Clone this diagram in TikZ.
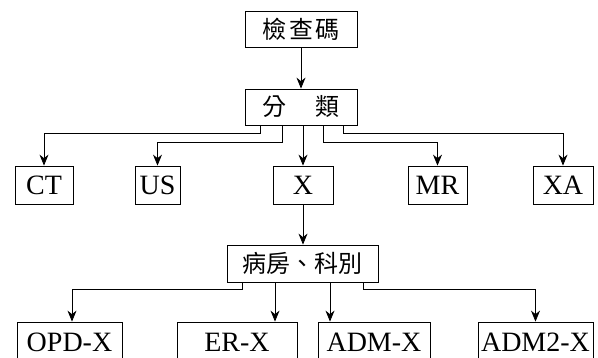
\documentclass[tikz,border=0pt]{standalone}
\usepackage{fontspec}
\setmainfont{Liberation Serif}
\newfontfamily\cjk{Noto Sans CJK TC}
\usetikzlibrary{arrows.meta}
\begin{document}
\begin{tikzpicture}[x=1pt,y=-1pt,
  box/.style={draw,line width=0.8pt,inner sep=0pt,font=\fontsize{28}{28}\selectfont},
  cbox/.style={box,font=\cjk\fontsize{24}{24}\selectfont},
  arr/.style={line width=0.8pt,-{Stealth[length=11pt,width=9pt]}}]
\clip (0,0) rectangle (598,358);
\node[cbox,minimum width=112pt,minimum height=36pt] (chk) at (301,29) {檢\hspace{0.1em}查\hspace{0.1em}碼};
\node[cbox,minimum width=112pt,minimum height=36pt] (fen) at (301,107) {分\hspace{1.2em}類};
\node[box,minimum width=58pt,minimum height=38pt] (CT) at (44,185) {CT};
\node[box,minimum width=45pt,minimum height=38pt] (US) at (157.5,185) {US};
\node[box,minimum width=60pt,minimum height=38pt] (X) at (303,185) {X};
\node[box,minimum width=59pt,minimum height=38pt] (MR) at (437.5,185) {MR};
\node[box,minimum width=60pt,minimum height=38pt] (XA) at (563,185) {XA};
\node[cbox,minimum width=151pt,minimum height=37pt] (bf) at (302.5,263.5) {病房、科別};
\node[box,minimum width=105pt,minimum height=40pt] (OPD) at (69.5,342) {OPD-X};
\node[box,minimum width=120pt,minimum height=40pt] (ER) at (237,342) {ER-X};
\node[box,minimum width=112pt,minimum height=40pt] (ADM) at (374,342) {ADM-X};
\node[box,minimum width=115pt,minimum height=40pt] (ADM2) at (535.5,342) {ADM2-X};
\draw[arr] (chk.south) -- (fen.north);
\draw[arr] ([xshift=-41pt]fen.south) -- ++(0,8) -| (CT.north);
\draw[arr] ([xshift=-19pt]fen.south) -- ++(0,17) -| (US.north);
\draw[arr] (fen.south -| X.north) -- (X.north);
\draw[arr] ([xshift=22pt]fen.south) -- ++(0,17) -| (MR.north);
\draw[arr] ([xshift=42pt]fen.south) -- ++(0,8) -| (XA.north);
\draw[arr] (X.south) -- (X.south |- bf.north);
\draw[arr] ([xshift=-60.5pt]bf.south) -- ++(0,7) -| ([xshift=2.5pt]OPD.north);
\coordinate (e1) at ([xshift=-27.5pt]bf.south);
\draw[arr] (e1) -- (e1 |- ER.north);
\coordinate (a1) at ([xshift=27.5pt]bf.south);
\draw[arr] (a1) -- (a1 |- ADM.north);
\draw[arr] ([xshift=60.5pt]bf.south) -- ++(0,7) -| (ADM2.north);
\end{tikzpicture}
\end{document}
